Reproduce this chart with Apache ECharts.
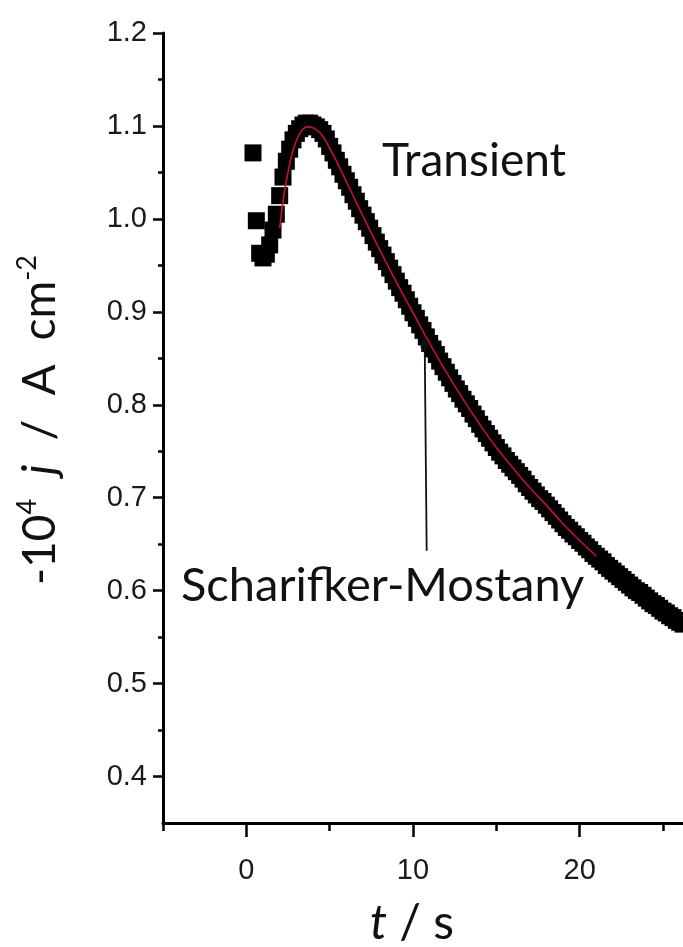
<!DOCTYPE html>
<html>
<head>
<meta charset="utf-8">
<script src="https://cdn.jsdelivr.net/npm/echarts@6/dist/echarts.min.js"></script>
<style>
  html, body { margin: 0; padding: 0; background: #fff; }
  #main { width: 683px; height: 947px; }
</style>
</head>
<body>
<div id="main"></div>
<script>
// measured transient (black squares)
const times = [
  0.4, 0.6, 0.8, 1.0, 1.2, 1.4, 1.6, 1.8, 2.0, 2.2,
  2.4, 2.6, 2.8, 3.0, 3.2, 3.4, 3.6, 3.8, 4.0, 4.2,
  4.4, 4.6, 4.8, 5.0, 5.2, 5.4, 5.6, 5.8, 6.0, 6.2,
  6.4, 6.6, 6.8, 7.0, 7.2, 7.4, 7.6, 7.8, 8.0, 8.2,
  8.4, 8.6, 8.8, 9.0, 9.2, 9.4, 9.6, 9.8, 10.0, 10.2,
  10.4, 10.6, 10.8, 11.0, 11.2, 11.4, 11.6, 11.8, 12.0, 12.2,
  12.4, 12.6, 12.8, 13.0, 13.2, 13.4, 13.6, 13.8, 14.0, 14.2,
  14.4, 14.6, 14.8, 15.0, 15.2, 15.4, 15.6, 15.8, 16.0, 16.2,
  16.4, 16.6, 16.8, 17.0, 17.2, 17.4, 17.6, 17.8, 18.0, 18.2,
  18.4, 18.6, 18.8, 19.0, 19.2, 19.4, 19.6, 19.8, 20.0, 20.2,
  20.4, 20.6, 20.8, 21.0, 21.2, 21.4, 21.6, 21.8, 22.0, 22.2,
  22.4, 22.6, 22.8, 23.0, 23.2, 23.4, 23.6, 23.8, 24.0, 24.2,
  24.4, 24.6, 24.8, 25.0, 25.2, 25.4, 25.6, 25.8, 26.0, 26.2
];
const current = [
  1.071, 0.998, 0.963, 0.958, 0.962, 0.972, 0.988, 1.005, 1.025, 1.045,
  1.062, 1.075, 1.085, 1.092, 1.097, 1.101, 1.103, 1.103, 1.101, 1.099,
  1.096, 1.092, 1.086, 1.078, 1.071, 1.063, 1.056, 1.048, 1.041, 1.034,
  1.026, 1.019, 1.011, 1.004, 0.997, 0.990, 0.982, 0.975, 0.968, 0.961,
  0.954, 0.947, 0.940, 0.933, 0.926, 0.920, 0.913, 0.906, 0.899, 0.893,
  0.886, 0.880, 0.873, 0.866, 0.860, 0.854, 0.847, 0.841, 0.835, 0.829,
  0.823, 0.817, 0.812, 0.806, 0.801, 0.796, 0.790, 0.785, 0.779, 0.774,
  0.769, 0.764, 0.759, 0.754, 0.749, 0.745, 0.740, 0.736, 0.732, 0.728,
  0.724, 0.720, 0.715, 0.711, 0.707, 0.703, 0.699, 0.696, 0.692, 0.688,
  0.684, 0.680, 0.676, 0.672, 0.668, 0.665, 0.661, 0.658, 0.654, 0.651,
  0.647, 0.644, 0.640, 0.637, 0.634, 0.631, 0.627, 0.624, 0.621, 0.618,
  0.615, 0.612, 0.609, 0.606, 0.603, 0.600, 0.598, 0.595, 0.592, 0.589,
  0.586, 0.584, 0.581, 0.578, 0.576, 0.573, 0.571, 0.568, 0.566, 0.564
];

// Scharifker-Mostany fit (red line)
const fitTimes = [2.0, 2.25, 2.5, 2.75, 3.0, 3.25, 3.5, 3.75, 4.0, 4.5, 5.0, 5.5, 6.0,
  7.0, 8.0, 9.0, 10.0, 11.0, 12.0, 13.0, 14.0, 15.0, 16.0, 17.0, 18.0, 19.0, 20.0, 21.0];
const fitCurrent = [0.990, 1.025, 1.050, 1.070, 1.084, 1.093, 1.098, 1.099, 1.098, 1.091, 1.076, 1.059, 1.040,
  1.003, 0.967, 0.932, 0.899, 0.866, 0.835, 0.806, 0.779, 0.754, 0.732, 0.711, 0.692, 0.672, 0.654, 0.637];

const xMajor = [0, 10, 20];
const xMinor = [-5, 5, 15, 25];
const yMajor = [0.4, 0.5, 0.6, 0.7, 0.8, 0.9, 1.0, 1.1, 1.2];
const yMinor = [0.45, 0.55, 0.65, 0.75, 0.85, 0.95, 1.05, 1.15];

// arrow from label up to the curve
const arrowFrom = [10.82, 0.643];
const arrowTo = [10.70, 0.868];

const zip = (a, b) => a.map((v, i) => [v, b[i]]);

const myChart = echarts.init(document.getElementById('main'));

const labelFont = { fontFamily: 'Liberation Sans', fontSize: 29, color: '#1a1a1a' };
const textFont = 'Lato';

const option = {
  animation: false,
  grid: { left: 163, right: 0, top: 33, bottom: 124 },
  xAxis: [
    {
      type: 'value', min: -5, max: 26.2,
      axisLine: { onZero: false, lineStyle: { color: '#000', width: 3 } },
      axisTick: { customValues: xMajor, length: 14, lineStyle: { color: '#000', width: 2.5 } },
      axisLabel: Object.assign({ customValues: xMajor, margin: 33 }, labelFont),
      splitLine: { show: false }
    },
    {
      type: 'value', min: -5, max: 26.2, position: 'bottom',
      axisLine: { show: false, onZero: false },
      axisTick: { customValues: xMinor, length: 8, lineStyle: { color: '#000', width: 2.5 } },
      axisLabel: { show: false },
      splitLine: { show: false }
    }
  ],
  yAxis: [
    {
      type: 'value', min: 0.35, max: 1.2,
      axisLine: { show: true, onZero: false, lineStyle: { color: '#000', width: 3 } },
      axisTick: { show: true, customValues: yMajor, length: 10, lineStyle: { color: '#000', width: 2.5 } },
      axisLabel: Object.assign({ customValues: yMajor, margin: 16, formatter: v => v.toFixed(1) }, labelFont),
      splitLine: { show: false }
    },
    {
      type: 'value', min: 0.35, max: 1.2, position: 'left',
      axisLine: { show: false, onZero: false },
      axisTick: { show: true, customValues: yMinor, length: 5, lineStyle: { color: '#000', width: 2.5 } },
      axisLabel: { show: false },
      splitLine: { show: false }
    }
  ],
  series: [
    {
      name: 'Transient',
      type: 'scatter',
      symbol: 'rect',
      symbolSize: 17,
      itemStyle: { color: '#000', opacity: 1 },
      data: zip(times, current),
      z: 2,
      markLine: {
        silent: true,
        symbol: ['none', 'triangle'],
        symbolSize: [9, 12],
        label: { show: false },
        lineStyle: { color: '#111', width: 1.8, type: 'solid' },
        data: [[{ coord: arrowFrom }, { coord: arrowTo }]]
      }
    },
    {
      name: 'Scharifker-Mostany',
      type: 'line',
      smooth: true,
      showSymbol: false,
      lineStyle: { color: '#c8102e', width: 1.6 },
      data: zip(fitTimes, fitCurrent),
      z: 3
    }
  ],
  graphic: [
    {
      type: 'text', left: 382, top: 138,
      style: { text: 'Transient', font: '46px ' + textFont, fill: '#111' }
    },
    {
      type: 'text', left: 181, top: 562,
      style: { text: 'Scharifker-Mostany', font: '47px ' + textFont, fill: '#111' }
    },
    {
      type: 'text', left: 370, top: 900,
      style: {
        text: '{i|t} / s',
        font: '48px ' + textFont, fill: '#111',
        rich: { i: { fontFamily: textFont, fontSize: 48, fontStyle: 'italic', fill: '#111' } }
      }
    },
    {
      type: 'text', x: 40, y: 420, rotation: Math.PI / 2,
      style: {
        text: '-10{sup|4}{s| }{i|j}{s| }/{s| }A{s| }cm{sup|-2}',
        font: '46px ' + textFont, fill: '#111',
        align: 'center', verticalAlign: 'middle',
        rich: {
          sup: { fontFamily: textFont, fontSize: 27, verticalAlign: 'top', padding: [0, 0, 25, 0], fill: '#111' },
          i: { fontFamily: textFont, fontSize: 46, fontStyle: 'italic', fill: '#111' },
          s: { fontFamily: textFont, fontSize: 46, width: 24 }
        }
      }
    }
  ]
};

myChart.setOption(option);
</script>
</body>
</html>
